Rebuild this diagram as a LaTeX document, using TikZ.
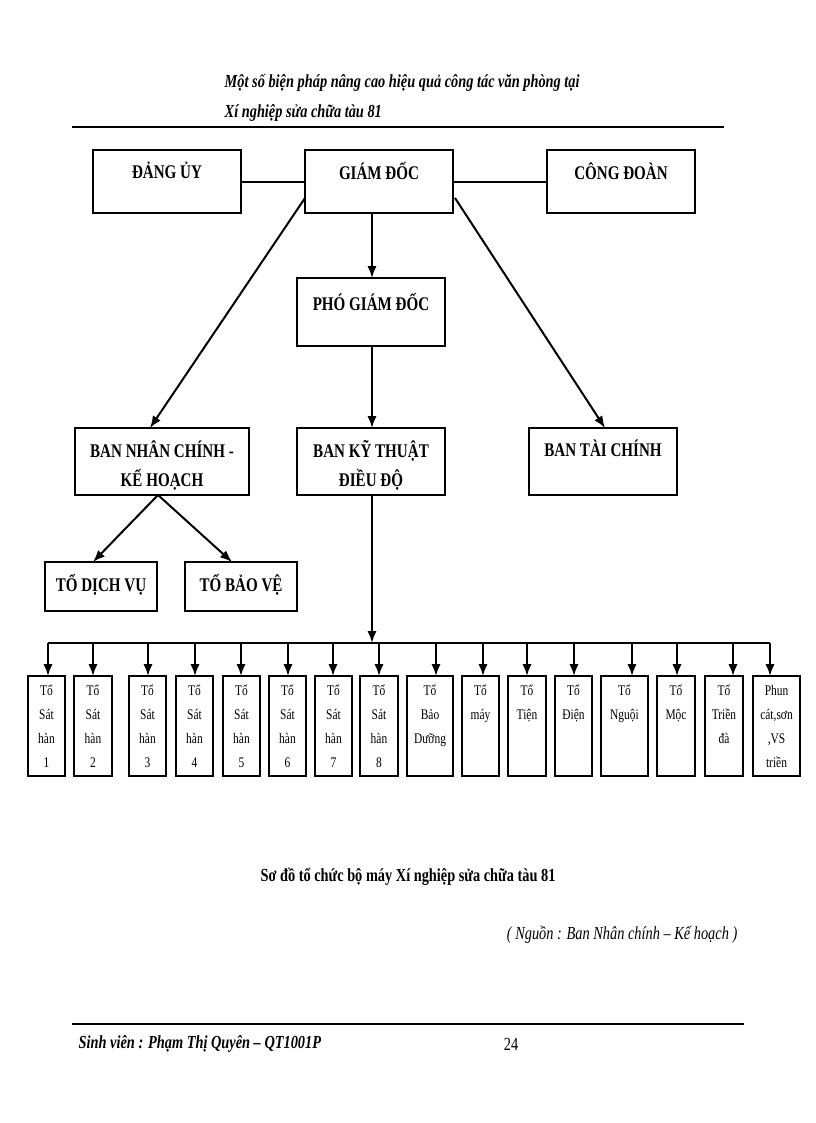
\documentclass[tikz,border=0pt]{standalone}
\usepackage{fontspec}
\setmainfont{Liberation Serif}[FakeStretch=0.78]
\usetikzlibrary{arrows.meta}
\begin{document}
\begin{tikzpicture}[x=0.75pt,y=-0.75pt,
 box/.style={draw,line width=1.5pt,inner sep=0pt},
 lbl/.style={font=\bfseries\fontsize{14.5}{22}\selectfont,align=center,anchor=north,inner sep=0pt},
 small/.style={draw,line width=1.3pt,inner sep=0pt},
 stxt/.style={font=\fontsize{11}{18}\selectfont,align=center,anchor=north,inner sep=0pt},
 arr/.style={-{Latex[length=9pt,width=7pt]},line width=1.5pt},
 ln/.style={line width=1.5pt}]
\useasboundingbox (0,0) rectangle (816,1123);
% header
\node[anchor=west,font=\bfseries\itshape\fontsize{13.8}{15}\selectfont] (h1) at (220,83) {Một số biện pháp nâng cao hiệu quả công tác văn phòng tại};
\node[anchor=west,font=\bfseries\itshape\fontsize{13.8}{15}\selectfont] (h2) at (220,113) {Xí nghiệp sửa chữa tàu 81};
\coordinate (r1a) at (72,127); \coordinate (r1b) at (724,127);
\draw[line width=1pt] (r1a) -- (r1b);
% main boxes
\draw[box] (93,150) rectangle (241,213); \coordinate (du) at (241,182);
\node[lbl] (tdu) at (167,162) {ĐẢNG ỦY};
\draw[box] (305,150) rectangle (453,213);
\coordinate (gdl) at (305,182); \coordinate (gdr) at (453,182);
\coordinate (gdb) at (372,213); \coordinate (gdbl) at (305,198); \coordinate (gdbr) at (455,198);
\node[lbl] (tgd) at (379,162) {GIÁM ĐỐC};
\draw[box] (547,150) rectangle (695,213); \coordinate (cd) at (547,182);
\node[lbl] (tcd) at (621,162) {CÔNG ĐOÀN};
\draw[ln] (du) -- (gdl); \draw[ln] (gdr) -- (cd);
\draw[box] (297,278) rectangle (445,346);
\coordinate (pgt) at (372,278); \coordinate (pgb) at (372,346);
\node[lbl] (tpg) at (371,293) {PHÓ GIÁM ĐỐC};
\draw[arr] (gdb) -- (pgt);
\draw[box] (75,428) rectangle (249,495);
\coordinate (nct) at (150,428); \coordinate (ncb) at (158,495);
\node[lbl] (tnc) at (162,440) {BAN NHÂN CHÍNH -\\KẾ HOẠCH};
\draw[box] (297,428) rectangle (445,495);
\coordinate (ktt) at (372,428); \coordinate (ktb) at (372,495);
\node[lbl] (tkt) at (371,440) {BAN KỸ THUẬT\\ĐIỀU ĐỘ};
\draw[box] (529,428) rectangle (677,495); \coordinate (tct) at (605,428);
\node[lbl] (ttc) at (603,440) {BAN TÀI CHÍNH};
\draw[arr] (gdbl) -- (nct);
\draw[arr] (pgb) -- (ktt);
\draw[arr] (gdbr) -- (tct);
\draw[box] (45,562) rectangle (157,611); \coordinate (dvt) at (93,562);
\node[lbl] (tdv) at (101,574) {TỔ DỊCH VỤ};
\draw[box] (185,562) rectangle (297,611); \coordinate (bvt) at (232,562);
\node[lbl] (tbv) at (241,574) {TỔ BẢO VỆ};
\draw[arr] (ncb) -- (dvt); \draw[arr] (ncb) -- (bvt);
% bus
\coordinate (busk) at (372,643);
\draw[arr] (ktb) -- (busk);
\coordinate (busl) at (48,643); \coordinate (busr) at (770,643);
\draw[line width=2pt] (busl) -- (busr);
\foreach \a/\b/\c/\t [count=\i] in {
 28/65/48/{Tổ\\Sát\\hàn\\1}, 74/112/93/{Tổ\\Sát\\hàn\\2}, 129/166/148/{Tổ\\Sát\\hàn\\3},
 176/213/195/{Tổ\\Sát\\hàn\\4}, 223/260/241/{Tổ\\Sát\\hàn\\5}, 269/306/288/{Tổ\\Sát\\hàn\\6},
 315/352/333/{Tổ\\Sát\\hàn\\7}, 360/398/379/{Tổ\\Sát\\hàn\\8}, 407/453/436/{Tổ\\Bảo\\Dưỡng},
 462/499/483/{Tổ\\máy}, 508/546/527/{Tổ\\Tiện}, 555/592/574/{Tổ\\Điện},
 601/648/632/{Tổ\\Nguội}, 657/695/677/{Tổ\\Mộc}, 705/743/733/{Tổ\\Triền\\đà},
 753/800/770/{Phun\\cát,sơn\\,VS\\triền}} {
 \draw[small] (\a,676) rectangle (\b,776);
 \coordinate (bt\i) at (\c,676); \coordinate (bb\i) at (\c,643);
 \draw[arr] (bb\i) -- (bt\i);
 \node[stxt] (st\i) at ({(\a+\b)/2},685) {\t};
}
% caption
\node[font=\bfseries\fontsize{13.8}{15}\selectfont] (cap) at (408,877) {Sơ đồ tổ chức bộ máy Xí nghiệp sửa chữa tàu 81};
\node[anchor=east,font=\itshape\fontsize{13.8}{15}\selectfont] (src) at (742,935) {( Nguồn : Ban Nhân chính – Kế hoạch )};
\coordinate (r2a) at (72,1024); \coordinate (r2b) at (744,1024);
\draw[line width=1pt] (r2a) -- (r2b);
\node[anchor=west,font=\bfseries\itshape\fontsize{13.8}{15}\selectfont] (ft) at (74,1044) {Sinh viên : Phạm Thị Quyên – QT1001P};
\node[font=\fontsize{13.8}{15}\selectfont] (pg) at (511,1044) {24};
\end{tikzpicture}
\end{document}
